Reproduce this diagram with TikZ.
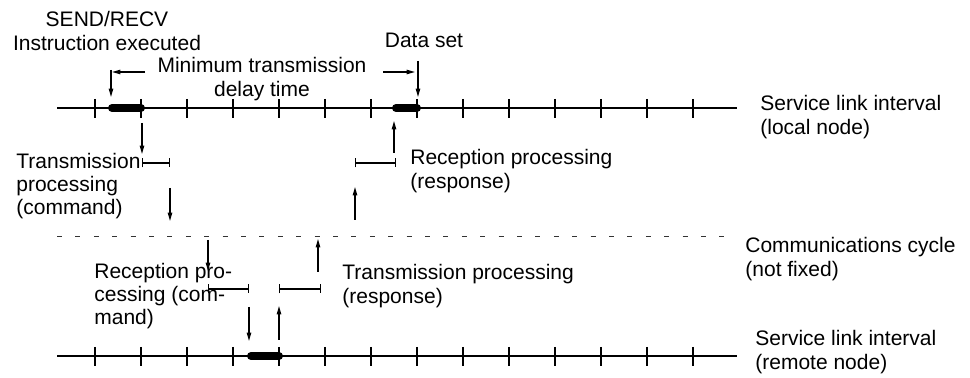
\documentclass[tikz,border=0pt]{standalone}
\usepackage{fontspec}
\setmainfont{Liberation Sans}
\usetikzlibrary{arrows.meta}
\tikzset{
  >={Triangle[length=4.2pt,width=2.2pt]},
  tline/.style={black, line width=0.6pt},
  tbusy/.style={black, line width=4pt, line cap=round},
  tcycle/.style={black!80, line width=0.5pt, dash pattern=on 2.5pt off 6.7pt},
  tarrow/.style={->, black, line width=0.6pt},
  tspan/.style={{Bar[width=4.5pt]}-{Bar[width=4.5pt]}, black, line width=0.6pt},
  tlbl/.style={font=\fontsize{10.5}{11.6}\selectfont, align=left, inner sep=0pt},
}
\begin{document}
\begin{tikzpicture}[x=0.5pt,y=-0.5pt]
  \useasboundingbox (0,0) rectangle (970,378);

  % time lines
  \coordinate (L0) at (57,108);  \coordinate (L1) at (737,108);
  \coordinate (C0) at (57,237);  \coordinate (C1) at (737,237);
  \coordinate (R0) at (57,356);  \coordinate (R1) at (737,356);
  \draw[tline] (L0) -- (L1);
  \draw[tcycle] (C0) -- (C1);
  \draw[tline] (R0) -- (R1);
  \foreach \i in {0,...,13} {
    \draw[tline] ({95+46*\i},99) -- ++(0,19);
    \draw[tline] ({95+46*\i},347) -- ++(0,19);
  }

  % busy periods
  \coordinate (exec) at (112,108);  \coordinate (send) at (141,108);
  \coordinate (recv) at (396,108);  \coordinate (dset) at (417,108);
  \coordinate (rin)  at (251,356);  \coordinate (rout) at (279,356);
  \draw[tbusy] (exec) -- (send);
  \draw[tbusy] (recv) -- (dset);
  \draw[tbusy] (rin) -- (rout);

  % labels
  \node[tlbl, align=center] (instr) at (107,31) {SEND/RECV\\Instruction executed};
  \node[tlbl, align=center] (delay) at (262,79) {Minimum transmission\\delay time};
  \node[tlbl] (dlbl) at (424,40) {Data set};
  \node[tlbl, anchor=west] (txc) at (16,186) {Transmission\\processing\\(command)};
  \node[tlbl, anchor=west] (rxr) at (410,171) {Reception processing\\(response)};
  \node[tlbl, anchor=west] (rxc) at (94,296) {Reception pro-\\cessing (com-\\mand)};
  \node[tlbl, anchor=west] (txr) at (342,286) {Transmission processing\\(response)};
  \node[tlbl, anchor=west] (local) at (760,117) {Service link interval\\(local node)};
  \node[tlbl, anchor=west] (cyc) at (745,259) {Communications cycle\\(not fixed)};
  \node[tlbl, anchor=west] (remote) at (755,352) {Service link interval\\(remote node)};

  % instruction and data set
  \coordinate (a1) at (111,70);  \coordinate (a2) at (111,97);
  \draw[tarrow] (a1) -- (a2);
  \coordinate (d1) at (418,61);  \coordinate (d2) at (418,97);
  \draw[tarrow] (d1) -- (d2);
  \coordinate (m1) at (145,72);  \coordinate (m2) at (112,72);
  \draw[tarrow] (m1) -- (m2);
  \coordinate (m3) at (383,72);  \coordinate (m4) at (415,72);
  \draw[tarrow] (m3) -- (m4);

  % command: local -> remote
  \coordinate (t1) at (142,123);  \coordinate (t2) at (142,154);
  \draw[tarrow] (t1) -- (t2);
  \coordinate (t3) at (142,163);  \coordinate (t4) at (170,163);
  \draw[tspan] (t3) -- (t4);
  \coordinate (t5) at (170,188);  \coordinate (t6) at (170,221);
  \draw[tarrow] (t5) -- (t6);
  \coordinate (c1) at (208,240);  \coordinate (c2) at (208,271);
  \draw[tarrow] (c1) -- (c2);
  \coordinate (c3) at (208,289);  \coordinate (c4) at (249,289);
  \draw[tspan] (c3) -- (c4);
  \coordinate (c5) at (249,307);  \coordinate (c6) at (249,341);
  \draw[tarrow] (c5) -- (c6);

  % response: remote -> local
  \coordinate (s1) at (279,340);  \coordinate (s2) at (279,306);
  \draw[tarrow] (s1) -- (s2);
  \coordinate (s3) at (279,289);  \coordinate (s4) at (321,289);
  \draw[tspan] (s3) -- (s4);
  \coordinate (s5) at (318,272);  \coordinate (s6) at (318,239);
  \draw[tarrow] (s5) -- (s6);
  \coordinate (r1) at (355,220);  \coordinate (r2) at (355,187);
  \draw[tarrow] (r1) -- (r2);
  \coordinate (r3) at (355,163);  \coordinate (r4) at (396,163);
  \draw[tspan] (r3) -- (r4);
  \coordinate (r5) at (394,153);  \coordinate (r6) at (394,121);
  \draw[tarrow] (r5) -- (r6);

\end{tikzpicture}
\end{document}
